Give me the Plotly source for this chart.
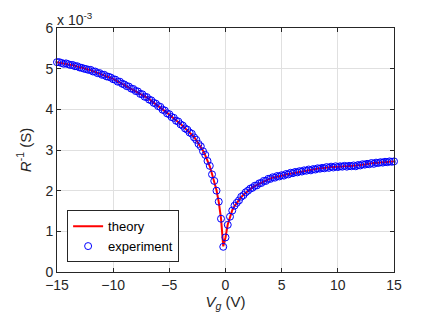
import plotly.graph_objects as go

# gate voltage sweep (V), step 0.2 V
vg = [
    -15.0, -14.8, -14.6, -14.4, -14.2, -14.0, -13.8, -13.6, -13.4, -13.2,
    -13.0, -12.8, -12.6, -12.4, -12.2, -12.0, -11.8, -11.6, -11.4, -11.2,
    -11.0, -10.8, -10.6, -10.4, -10.2, -10.0, -9.8, -9.6, -9.4, -9.2,
    -9.0, -8.8, -8.6, -8.4, -8.2, -8.0, -7.8, -7.6, -7.4, -7.2,
    -7.0, -6.8, -6.6, -6.4, -6.2, -6.0, -5.8, -5.6, -5.4, -5.2,
    -5.0, -4.8, -4.6, -4.4, -4.2, -4.0, -3.8, -3.6, -3.4, -3.2,
    -3.0, -2.8, -2.6, -2.4, -2.2, -2.0, -1.8, -1.6, -1.4, -1.2,
    -1.0, -0.8, -0.6, -0.4, -0.2,
    0.0, 0.2, 0.4, 0.6, 0.8, 1.0, 1.2, 1.4, 1.6, 1.8,
    2.0, 2.2, 2.4, 2.6, 2.8, 3.0, 3.2, 3.4, 3.6, 3.8,
    4.0, 4.2, 4.4, 4.6, 4.8, 5.0, 5.2, 5.4, 5.6, 5.8,
    6.0, 6.2, 6.4, 6.6, 6.8, 7.0, 7.2, 7.4, 7.6, 7.8,
    8.0, 8.2, 8.4, 8.6, 8.8, 9.0, 9.2, 9.4, 9.6, 9.8,
    10.0, 10.2, 10.4, 10.6, 10.8, 11.0, 11.2, 11.4, 11.6, 11.8,
    12.0, 12.2, 12.4, 12.6, 12.8, 13.0, 13.2, 13.4, 13.6, 13.8,
    14.0, 14.2, 14.4, 14.6, 14.8, 15.0,
]

# 1/R in units of 1e-3 S
theory = [
    5.16, 5.15, 5.14, 5.13, 5.12, 5.11, 5.10, 5.08, 5.07, 5.05,
    5.04, 5.02, 5.01, 4.99, 4.98, 4.96, 4.94, 4.92, 4.90, 4.88,
    4.86, 4.84, 4.82, 4.80, 4.77, 4.75, 4.72, 4.69, 4.67, 4.64,
    4.61, 4.58, 4.55, 4.52, 4.49, 4.46, 4.43, 4.39, 4.36, 4.32,
    4.29, 4.25, 4.21, 4.17, 4.13, 4.09, 4.05, 4.00, 3.96, 3.91,
    3.87, 3.82, 3.78, 3.73, 3.69, 3.64, 3.59, 3.54, 3.49, 3.44,
    3.39, 3.32, 3.24, 3.16, 3.08, 2.98, 2.87, 2.74, 2.60, 2.41,
    2.23, 2.01, 1.72, 1.32, 0.63,
    0.85, 1.17, 1.37, 1.52, 1.62, 1.70, 1.77, 1.84, 1.90, 1.95,
    2.00, 2.04, 2.08, 2.11, 2.14, 2.17, 2.20, 2.23, 2.25, 2.28,
    2.30, 2.32, 2.33, 2.35, 2.36, 2.37, 2.38, 2.40, 2.41, 2.43,
    2.44, 2.45, 2.46, 2.47, 2.48, 2.49, 2.50, 2.51, 2.51, 2.52,
    2.53, 2.54, 2.55, 2.55, 2.56, 2.57, 2.57, 2.58, 2.58, 2.59,
    2.59, 2.59, 2.60, 2.60, 2.60, 2.60, 2.61, 2.61, 2.62, 2.62,
    2.63, 2.64, 2.65, 2.65, 2.66, 2.67, 2.68, 2.68, 2.69, 2.69,
    2.70, 2.70, 2.71, 2.71, 2.72, 2.72,
]

experiment = [
    5.16, 5.16, 5.14, 5.12, 5.13, 5.11, 5.09, 5.09, 5.06, 5.06,
    5.03, 5.02, 5.00, 4.99, 4.97, 4.97, 4.93, 4.93, 4.89, 4.89,
    4.85, 4.85, 4.81, 4.80, 4.78, 4.74, 4.73, 4.68, 4.68, 4.63,
    4.61, 4.57, 4.56, 4.51, 4.50, 4.45, 4.44, 4.38, 4.37, 4.31,
    4.30, 4.24, 4.22, 4.16, 4.14, 4.08, 4.06, 3.99, 3.97, 3.90,
    3.88, 3.81, 3.79, 3.72, 3.70, 3.63, 3.60, 3.53, 3.50, 3.43,
    3.40, 3.31, 3.25, 3.15, 3.09, 2.97, 2.88, 2.73, 2.61, 2.40,
    2.24, 2.00, 1.73, 1.31, 0.62,
    0.85, 1.16, 1.36, 1.51, 1.63, 1.70, 1.76, 1.85, 1.89, 1.96,
    2.00, 2.05, 2.07, 2.12, 2.13, 2.18, 2.19, 2.24, 2.24, 2.29,
    2.29, 2.33, 2.32, 2.36, 2.35, 2.38, 2.37, 2.41, 2.40, 2.44,
    2.43, 2.46, 2.45, 2.48, 2.47, 2.50, 2.49, 2.52, 2.50, 2.53,
    2.52, 2.55, 2.54, 2.56, 2.55, 2.58, 2.56, 2.59, 2.57, 2.60,
    2.58, 2.60, 2.59, 2.61, 2.59, 2.61, 2.60, 2.62, 2.60, 2.63,
    2.62, 2.65, 2.64, 2.66, 2.65, 2.68, 2.66, 2.69, 2.68, 2.70,
    2.69, 2.71, 2.70, 2.72, 2.71, 2.72,
]

x_ticks = [-15, -10, -5, 0, 5, 10, 15]
y_ticks = [0, 1, 2, 3, 4, 5, 6]

axis_color = "#262626"
grid_color = "#e0e0e0"
font_family = "Liberation Sans, Arial, sans-serif"

fig = go.Figure()

fig.add_trace(go.Scatter(
    x=vg, y=theory,
    mode="lines",
    name="theory",
    line=dict(color="#ff0000", width=2),
))

fig.add_trace(go.Scatter(
    x=vg, y=experiment,
    mode="markers",
    name="experiment",
    marker=dict(symbol="circle-open", size=7, color="#0000ff",
                line=dict(width=1, color="#0000ff")),
    cliponaxis=False,
))

axis_common = dict(
    showline=True, linecolor=axis_color, linewidth=1, mirror="ticks",
    ticks="inside", ticklen=4, tickcolor=axis_color,
    showgrid=True, gridcolor=grid_color, gridwidth=1,
    zeroline=False,
    tickfont=dict(family=font_family, size=14, color=axis_color),
)

fig.update_xaxes(
    range=[-15, 15], tickvals=x_ticks,
    title=dict(text="<i>V</i><sub><i>g</i></sub> (V)",
               font=dict(family=font_family, size=15, color=axis_color),
               standoff=4),
    **axis_common,
)
fig.update_yaxes(
    range=[0, 6], tickvals=y_ticks,
    title=dict(text="<i>R</i><sup>-1</sup> (S)",
               font=dict(family=font_family, size=15, color=axis_color),
               standoff=10),
    **axis_common,
)

fig.add_annotation(
    text="x 10<sup>-3</sup>", xref="paper", yref="paper",
    x=0, y=1.0, xanchor="left", yanchor="bottom", showarrow=False,
    font=dict(family=font_family, size=14, color=axis_color),
    xshift=-2, yshift=-2,
)

# the page adds an 8px body margin, so the figure is sized to fit inside
fig.update_layout(
    width=428, height=319,
    margin=dict(l=49, r=42, t=18, b=55),
    plot_bgcolor="white", paper_bgcolor="white",
    font=dict(family=font_family, size=13, color=axis_color),
    legend=dict(
        x=0.03, y=0.04, xanchor="left", yanchor="bottom",
        bgcolor="white", bordercolor=axis_color, borderwidth=1,
        font=dict(family=font_family, size=13, color="#000000"),
        tracegroupgap=0, itemwidth=30,
    ),
)

fig.write_html("out.html")
